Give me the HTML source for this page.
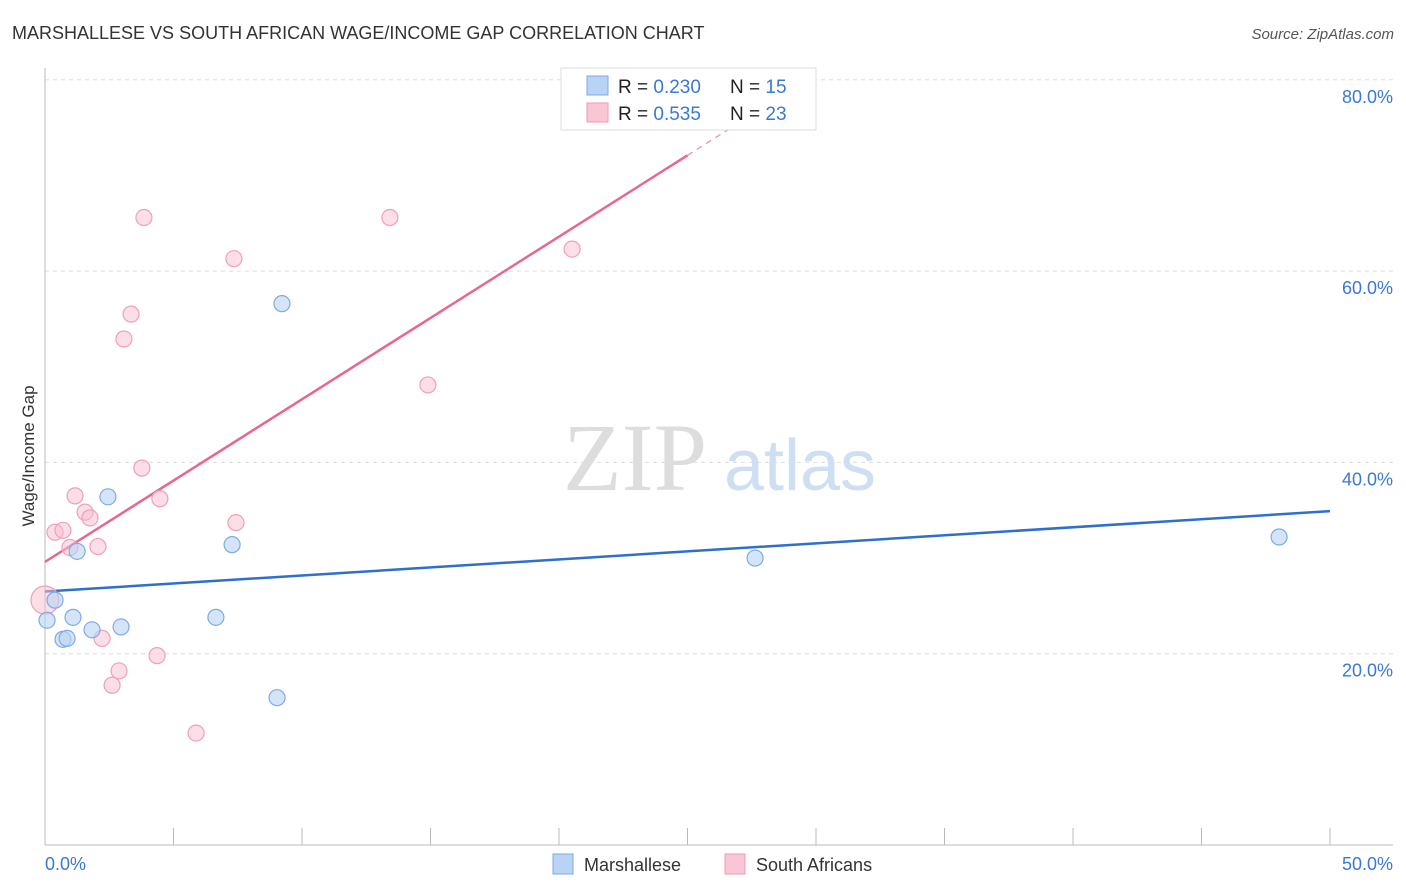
<!DOCTYPE html>
<html><head><meta charset="utf-8"><style>
body{margin:0;background:#fff;font-family:"Liberation Sans",sans-serif;}
svg{display:block}
</style></head><body>
<svg id="chart" width="1406" height="892" xmlns="http://www.w3.org/2000/svg">
<text x="12" y="39" font-size="18" fill="#333">MARSHALLESE VS SOUTH AFRICAN WAGE/INCOME GAP CORRELATION CHART</text>
<text x="1394" y="39" font-size="15" fill="#555" text-anchor="end" font-style="italic">Source: ZipAtlas.com</text>
<g id="grid"></g>
<g><text x="635" y="490" font-size="96" font-family="Liberation Serif" fill="#ddd" text-anchor="middle">ZIP</text><text x="800" y="490" font-size="72" fill="#cfdff3" text-anchor="middle">atlas</text></g>
<line x1="45" y1="68" x2="45" y2="845" stroke="#bbb"/>
<line x1="45" y1="845" x2="1393" y2="845" stroke="#bbb"/>
<g id="xticks"></g>
<text x="45" y="870" font-size="18" fill="#3a78d4">0.0%</text>
<text x="1393" y="870" font-size="18" fill="#3a78d4" text-anchor="end">50.0%</text>
<text transform="translate(34,456) rotate(-90)" font-size="17" fill="#333" text-anchor="middle">Wage/Income Gap</text>
<g id="lines"></g>
<g id="points"></g>
<g>
<rect x="561" y="68" width="255" height="62" fill="#fff" stroke="#ddd"/>
<rect x="587" y="76" width="21" height="19" fill="#b9d3f5" stroke="#7eaae6"/>
<rect x="587" y="103" width="21" height="19" fill="#f9c6d5" stroke="#ee9ab3"/>
<text x="618" y="93" font-size="19" fill="#222">R = <tspan fill="#3a78d4">0.230</tspan><tspan x="730">N = </tspan><tspan fill="#3a78d4">15</tspan></text>
<text x="618" y="120" font-size="19" fill="#222">R = <tspan fill="#3a78d4">0.535</tspan><tspan x="730">N = </tspan><tspan fill="#3a78d4">23</tspan></text>
</g>
<g>
<rect x="553" y="854" width="20" height="20" fill="#b9d3f5" stroke="#7eaae6"/>
<text x="584" y="871" font-size="18" fill="#333">Marshallese</text>
<rect x="725" y="854" width="20" height="20" fill="#f9c6d5" stroke="#ee9ab3"/>
<text x="756" y="871" font-size="18" fill="#333">South Africans</text>
</g>
</svg>
<script>
const yTicks=[20,40,60,80];
const xTickVals=[0,5,10,15,20,25,30,35,40,45,50];
const blueX=[0.08,0.39,0.70,0.86,1.09,1.25,1.83,2.45,2.96,6.65,7.28,9.03,9.22,27.63,48.02];
const blueY=[23.5,25.6,21.5,21.6,23.8,30.7,22.5,36.4,22.8,23.8,31.4,15.4,56.6,30.0,32.2];
const pinkX=[0,0.39,0.70,0.97,1.17,1.56,1.75,2.06,2.22,2.61,2.88,3.07,3.35,3.77,3.85,4.36,4.47,5.88,7.35,7.43,13.42,14.90,20.51];
const pinkY=[25.6,32.7,32.9,31.1,36.5,34.8,34.2,31.2,21.6,16.7,18.2,52.9,55.5,39.4,65.6,19.8,36.2,11.7,61.3,33.7,65.6,48.1,62.3];
const blueTrend=[26.5,34.9];
const pinkTrend=[29.6,1.7];
const NS="http://www.w3.org/2000/svg";
const sx=v=>45+v*25.7, sy=v=>845-v*9.565;
function mk(t,a,p){const e=document.createElementNS(NS,t);for(const k in a)e.setAttribute(k,a[k]);document.getElementById(p).appendChild(e);return e;}
yTicks.forEach(t=>{
 const l=mk('line',{x1:45,x2:1393,y1:sy(t),y2:sy(t),stroke:'#ddd','stroke-dasharray':'4,4'},'grid');
 
 
 const tx=mk('text',{x:1393,y:sy(t)+23,'font-size':18,fill:'#3a78d4','text-anchor':'end'},'grid');
 tx.textContent=t.toFixed(1)+'%';
 
 
});
xTickVals.forEach(t=>{
 const l=mk('line',{x1:sx(t),x2:sx(t),y1:828,y2:845,stroke:'#bbb'},'xticks');
 
 
});
let b=mk('line',{x1:sx(0),y1:sy(blueTrend[0]),x2:sx(50),y2:sy(blueTrend[1]),stroke:'#2f6fd0','stroke-width':2.5},'lines');


const pf=x=>pinkTrend[0]+pinkTrend[1]*x;
let p=mk('line',{x1:sx(0),y1:sy(pf(0)),x2:sx(25),y2:sy(pf(25)),stroke:'#e8668f','stroke-width':2.5},'lines');


let pd=mk('line',{x1:sx(25),y1:sy(pf(25)),x2:sx(29.7),y2:sy(pf(29.7)),stroke:'#e8a0b8','stroke-width':1.5,'stroke-dasharray':'6,5'},'lines');


pinkX.forEach((x,i)=>{
 const c=mk('circle',{cx:sx(x),cy:sy(pinkY[i]),r:i==0?14:8,fill:'rgba(249,190,208,0.5)',stroke:'#eea0b8','stroke-width':1.2},'points');
 
 
});
blueX.forEach((x,i)=>{
 const c=mk('circle',{cx:sx(x),cy:sy(blueY[i]),r:8,fill:'rgba(185,211,245,0.6)',stroke:'#7eaae6','stroke-width':1.2},'points');
 
 
});
</script>
</body></html>
